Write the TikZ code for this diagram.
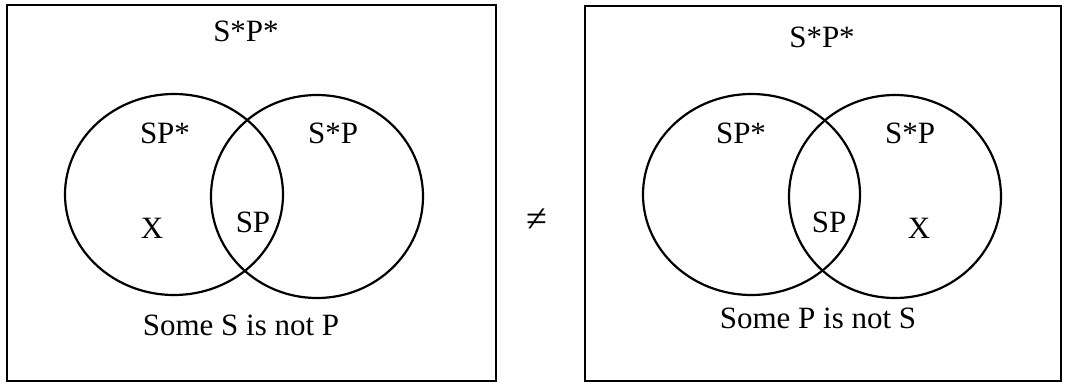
\documentclass[tikz,border=0pt]{standalone}
\usepackage{fontspec}
\setmainfont{Liberation Serif}
\usepackage{tikz}
\usetikzlibrary{positioning}

\begin{document}
\begin{tikzpicture}[
  x=1pt, y=-1pt,
  frame/.style={draw, line width=1.5pt},
  ring/.style={draw, line width=2.2pt},
  region/.style={font=\fontsize{31}{36}\selectfont, inner sep=0pt, anchor=base},
  relation/.style={font=\fontsize{38}{42}\selectfont, inner sep=1pt}
]
\useasboundingbox (0,0) rectangle (1065,383);

% left diagram: some S is not P
\draw[frame] (7,5) rectangle (496,381);
\draw[ring] (174,194.5) ellipse [x radius=109, y radius=100.5];
\draw[ring] (317,196.5) ellipse [x radius=106, y radius=101.5];

\node[region] (outerL) at (246,41)  {S*P*};
\node[region] (onlySL) at (165,143) {SP*};
\node[region] (onlyPL) at (333,143) {S*P};
\node[region] (bothL)  at (253,232) {SP};
\node[region] (markL)  at (152,238) {X};
\node[region] (capL)   at (241,335) {Some S is not P};

% not equal
\node[relation] (neq) at (537,220) {≠};

% right diagram: some P is not S
\draw[frame] (585,6) rectangle (1061,381);
\draw[ring] (751.5,194.5) ellipse [x radius=108.5, y radius=100.5];
\draw[ring] (895,196.5) ellipse [x radius=106, y radius=101.5];

\node[region] (outerR) at (822,47)  {S*P*};
\node[region] (onlySR) at (741,143) {SP*};
\node[region] (onlyPR) at (910,143) {S*P};
\node[region] (bothR)  at (829,232) {SP};
\node[region] (markR)  at (919,238) {X};
\node[region] (capR)   at (818,328) {Some P is not S};

\end{tikzpicture}
\end{document}
